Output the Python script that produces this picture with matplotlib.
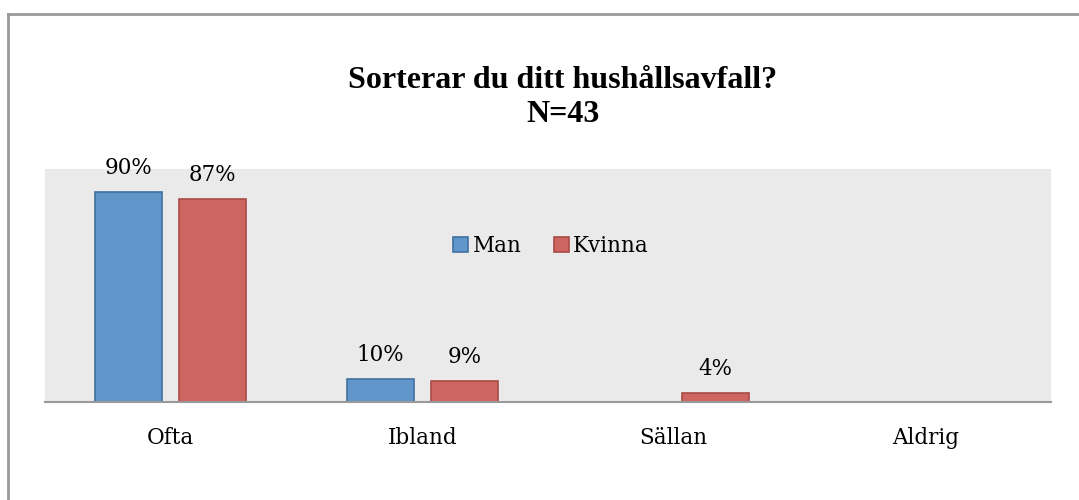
import numpy as np
import matplotlib.pyplot as plt
from matplotlib.lines import Line2D

categories = ['Ofta', 'Ibland', 'Sällan', 'Aldrig']
man = [90, 10, 0, 0]
kvinna = [87, 9, 4, 0]
series_names = ['Man', 'Kvinna']

label_font = ['DejaVu Serif']
title_font = ['Liberation Serif', 'DejaVu Serif']

fig = plt.figure(figsize=(10.79, 5), dpi=100)
ax = fig.add_axes([45 / 1079, 98 / 500, 1006 / 1079, 233 / 500])
ax.set_facecolor('#EAEAEA')

x = np.arange(len(categories))
w = 0.266
b1 = ax.bar(x - 0.167, man, w, color='#6096CA', edgecolor='#41709E', linewidth=1.2, label=series_names[0])
b2 = ax.bar(x + 0.167, kvinna, w, color='#CD6560', edgecolor='#A84B47', linewidth=1.2, label=series_names[1])

for bars, vals in [(b1, man), (b2, kvinna)]:
    for r, v in zip(bars, vals):
        if v > 0:
            ax.text(r.get_x() + r.get_width() / 2, v + 5.5, f'{v}%', ha='center', va='bottom',
                    fontsize=15.5, family=label_font)

ax.set_xlim(-0.5, 3.5)
ax.set_ylim(0, 100)
ax.set_yticks([])
ax.set_xticks(x)
ax.set_xticklabels(categories, fontsize=15.5, family=label_font)
ax.tick_params(axis='x', length=0, pad=18)
for s in ['top', 'right', 'left']:
    ax.spines[s].set_visible(False)
ax.spines['bottom'].set_color('#999999')
ax.spines['bottom'].set_linewidth(1.5)

leg = ax.legend(loc='center', bbox_to_anchor=(506 / 1006, (402 - 246) / 233), ncol=2, frameon=False,
                prop={'family': label_font, 'size': 15.5}, handlelength=0.7, handleheight=0.7,
                handletextpad=0.2, columnspacing=1.5)

fig.text(563 / 1079, 1 - 80 / 500, 'Sorterar du ditt hushållsavfall?', ha='center', va='center',
         fontsize=23, fontweight='bold', family=title_font)
fig.text(563 / 1079, 1 - 114 / 500, 'N=43', ha='center', va='center',
         fontsize=23, fontweight='bold', family=title_font)

# outer frame (left and top only are visible)
fig.add_artist(Line2D([8 / 1079, 8 / 1079], [0, 1 - 13.5 / 500], transform=fig.transFigure,
                      color='#999999', linewidth=2))
fig.add_artist(Line2D([8 / 1079, 1], [1 - 13.5 / 500, 1 - 13.5 / 500], transform=fig.transFigure,
                      color='#999999', linewidth=2))

fig.savefig('out.png', dpi=100)
